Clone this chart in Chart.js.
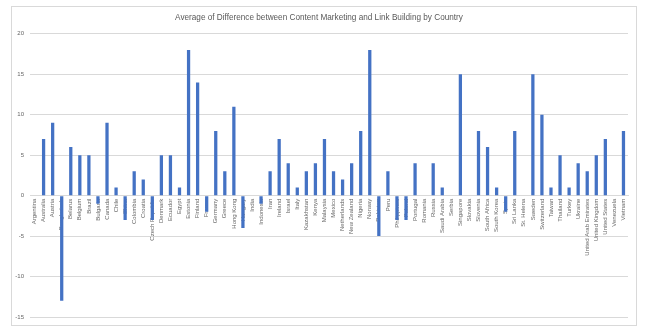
<!DOCTYPE html>
<html>
<head>
<meta charset="utf-8">
<script src="https://cdn.jsdelivr.net/npm/chart.js@4.4.0/dist/chart.umd.min.js"></script>
<style>
  html, body { margin: 0; padding: 0; background: #fff; }
  #wrap { position: relative; width: 650px; height: 333px; }
  #frame { position: absolute; left: 11px; top: 6px; width: 624px; height: 318px; border: 1px solid #d9d9d9; }
  #chart { position: absolute; left: 0; top: 0; }
</style>
</head>
<body>
<div id="wrap">
  <div id="frame"></div>
  <canvas id="chart" width="650" height="333"></canvas>
</div>
<script>
const countries = [
  "Argentina", "Australia", "Austria", "Bangladesh", "Belarus", "Belgium", "Brazil", "Bulgaria",
  "Canada", "Chile", "China", "Colombia", "Croatia", "Czech Republic", "Denmark", "Ecuador",
  "Egypt", "Estonia", "Finland", "France", "Germany", "Greece", "Hong Kong", "Hungary",
  "India", "Indonesia", "Iran", "Ireland", "Israel", "Italy", "Kazakhstan", "Kenya",
  "Malaysia", "Mexico", "Netherlands", "New Zealand", "Nigeria", "Norway", "Pakistan", "Peru",
  "Philippines", "Poland", "Portugal", "Romania", "Russia", "Saudi Arabia", "Serbia", "Singapore",
  "Slovakia", "Slovenia", "South Africa", "South Korea", "Spain", "Sri Lanka", "St. Helena", "Sweden",
  "Switzerland", "Taiwan", "Thailand", "Turkey", "Ukraine", "United Arab Emirates", "United Kingdom", "United States",
  "Venezuela", "Vietnam"
];

const avgDifference = [
  0, 7, 9, -13, 6, 5, 5, -1,
  9, 1, -3, 3, 2, -3, 5, 5,
  1, 18, 14, -2, 8, 3, 11, -4,
  0, -1, 3, 7, 4, 1, 3, 4,
  7, 3, 2, 4, 8, 18, -5, 3,
  -3, -3, 4, 0, 4, 1, 0, 15,
  0, 8, 6, 1, -2, 8, 0, 15,
  10, 1, 5, 1, 4, 3, 5, 7,
  0, 8
];

const yTicks = [-15, -10, -5, 0, 5, 10, 15, 20];

const ctx = document.getElementById("chart").getContext("2d");

new Chart(ctx, {
  type: "bar",
  data: {
    labels: countries,
    datasets: [
      {
        label: "Average of Difference",
        data: avgDifference,
        backgroundColor: "#4472c4",
        barPercentage: 0.36,
        categoryPercentage: 1
      }
    ]
  },
  options: {
    responsive: false,
    animation: false,
    layout: { padding: { left: 10, right: 22, top: 6, bottom: 16 } },
    plugins: {
      legend: { display: false },
      tooltip: { enabled: false },
      title: {
        display: true,
        text: "Average of Difference between Content Marketing and Link Building by Country",
        color: "#595959",
        font: { family: "'Liberation Sans', Arial, sans-serif", size: 8.2, weight: "normal" },
        padding: { top: 7, bottom: 11 }
      }
    },
    scales: {
      x: {
        position: { y: 0 },
        afterFit: scale => { scale.height = 0; },
        grid: { display: false, drawTicks: false },
        border: { display: true, color: "#d9d9d9" },
        ticks: {
          autoSkip: false,
          minRotation: 90,
          maxRotation: 90,
          padding: 3,
          color: "#666666",
          font: { family: "'Liberation Sans', Arial, sans-serif", size: 6 }
        }
      },
      y: {
        min: -15,
        max: 20,
        afterFit: scale => { scale.width = 20; },
        afterBuildTicks: scale => { scale.ticks = yTicks.map(v => ({ value: v })); },
        grid: { color: "#d9d9d9", drawTicks: false },
        border: { display: false },
        ticks: {
          padding: 6,
          color: "#666666",
          font: { family: "'Liberation Sans', Arial, sans-serif", size: 6 }
        }
      }
    }
  }
});
</script>
</body>
</html>
